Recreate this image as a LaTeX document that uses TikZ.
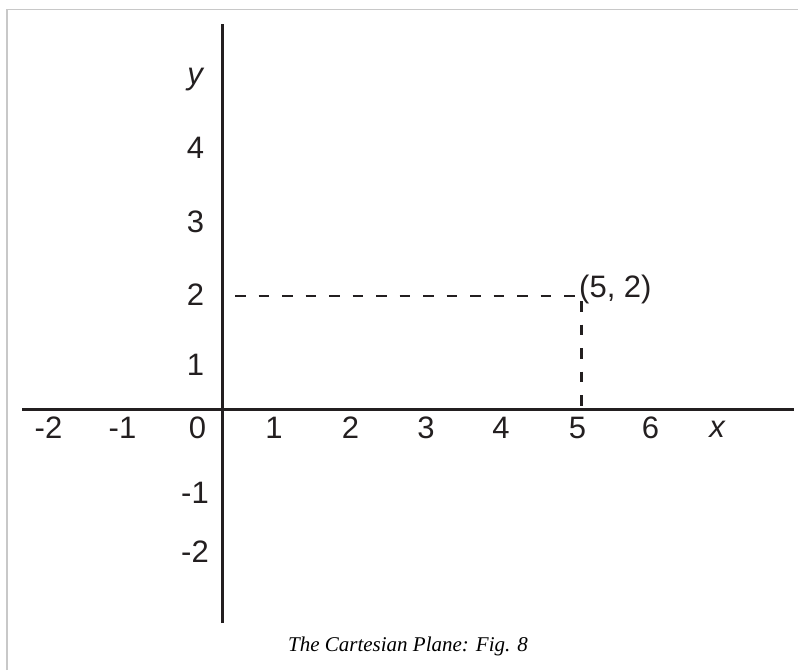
\documentclass[tikz,border=0pt]{standalone}
\usepackage{fontspec}
\setmainfont{Liberation Sans}
\newfontfamily\capfont{Liberation Serif}
\definecolor{inkblack}{HTML}{231F20}
\definecolor{framegray}{HTML}{C8C8C8}
\tikzstyle{lbl}=[inner sep=0pt, text=inkblack, font=\fontsize{31}{34}\selectfont]
\tikzstyle{axis}=[line width=3pt, draw=inkblack]
\tikzstyle{guide}=[line width=2.8pt, draw=inkblack, dash pattern=on 10.5pt off 13pt]

\begin{document}
\begin{tikzpicture}[x=1pt, y=-1pt]
    \useasboundingbox (0,0) rectangle (798,670);
    % frame
    \coordinate (f0) at (7,670);
    \coordinate (f1) at (7,9.5);
    \coordinate (f2) at (798,9.5);
    \draw[framegray, line width=1.5pt] (f0) -- (f1) -- (f2);
    % axes
    \coordinate (ytop) at (222.5,24);
    \coordinate (ybot) at (222.5,623);
    \coordinate (xleft) at (22,409);
    \coordinate (xright) at (794,409);
    \draw[axis] (ybot) -- (ytop);
    \draw[axis] (xleft) -- (xright);
    % the point and its guides
    \coordinate (hstart) at (235,296);
    \coordinate (hend) at (575.5,296);
    \coordinate (vstart) at (581.5,301);
    \coordinate (vend) at (581.5,409);
    \draw[guide] (hstart) -- (hend);
    \draw[guide] (vstart) -- (vend);
    \node[lbl, anchor=west] (pt) at (579,289.5) {(5, 2)};
    % labels on the x axis
    \node[lbl] (xm2) at (48.5,427.5) {-2};
    \node[lbl] (xm1) at (122.5,427.5) {-1};
    \node[lbl] (x0) at (197.5,427.5) {0};
    \node[lbl] (x1) at (274,427.5) {1};
    \node[lbl] (x2) at (350.5,427.5) {2};
    \node[lbl] (x3) at (426,427.5) {3};
    \node[lbl] (x4) at (501,427.5) {4};
    \node[lbl] (x5) at (577.5,427.5) {5};
    \node[lbl] (x6) at (650.5,427.5) {6};
    \node[lbl] (xname) at (717,429) {\itshape x};
    % labels on the y axis
    \node[lbl] (yname) at (195,80) {\itshape y};
    \node[lbl] (y4) at (195.5,148) {4};
    \node[lbl] (y3) at (195.5,222) {3};
    \node[lbl] (y2) at (195.5,295) {2};
    \node[lbl] (y1) at (195.5,365) {1};
    \node[lbl] (ym1) at (195,493) {-1};
    \node[lbl] (ym2) at (195,552) {-2};
    % caption
    \node[inner sep=0pt, anchor=base, font=\capfont\itshape\fontsize{21}{24}\selectfont] (cap) at (408,651) {The Cartesian Plane: Fig. 8};
\end{tikzpicture}
\end{document}
